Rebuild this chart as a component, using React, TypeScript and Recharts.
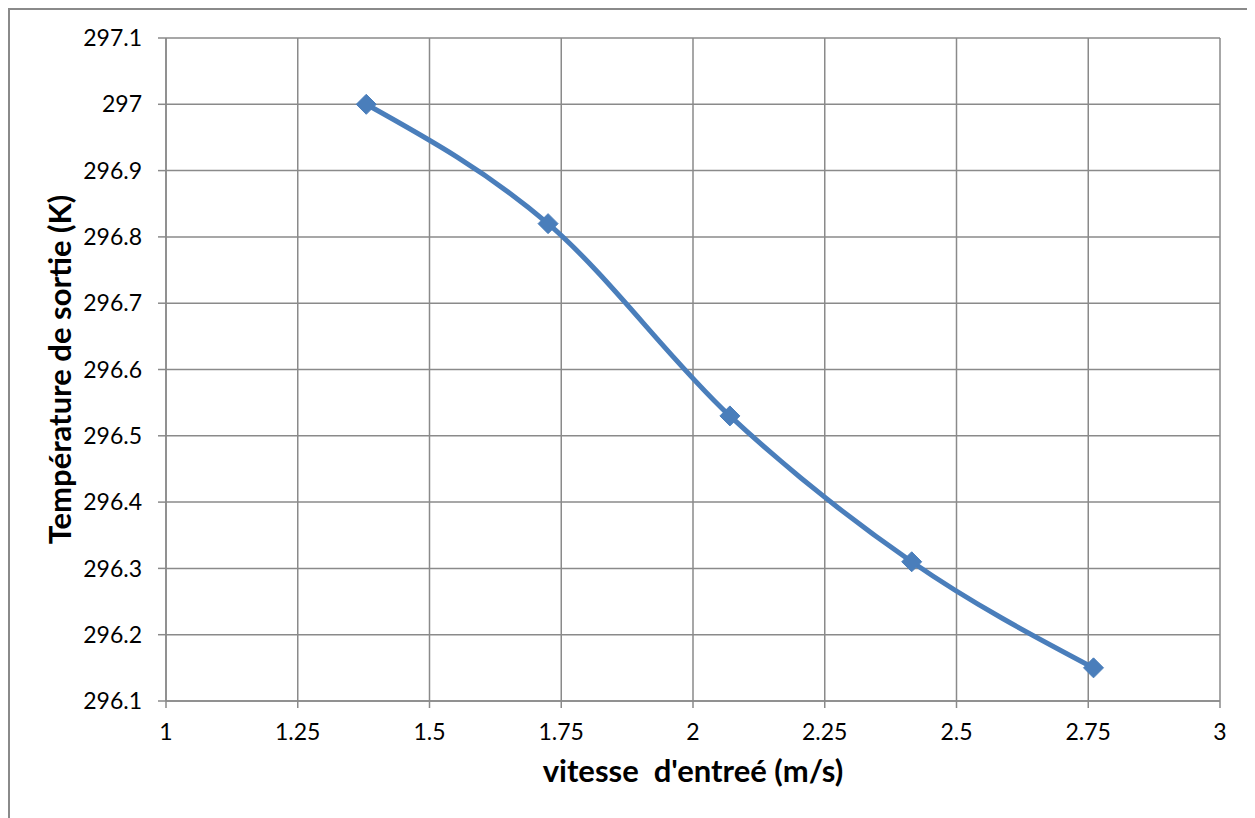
import React from 'react'
import { LineChart, Line, XAxis, YAxis, CartesianGrid } from 'recharts'

// inlet velocity (m/s) and outlet temperature (K)
const vitesse = [1.38, 1.725, 2.07, 2.415, 2.76]
const temperature = [297, 296.82, 296.53, 296.31, 296.15]

const xTicks = [1, 1.25, 1.5, 1.75, 2, 2.25, 2.5, 2.75, 3]
const yTicks = [296.1, 296.2, 296.3, 296.4, 296.5, 296.6, 296.7, 296.8, 296.9, 297, 297.1]

const data = vitesse.map((v, i) => ({ v, t: temperature[i] }))

const BLUE = '#4a7ebb'
const GRID = '#8a8a8a'
const FONT = 'Lato, "Open Sans", sans-serif'

// diamond marker like the Excel default
const Diamond = (props: any) => {
  const { cx, cy } = props
  if (cx == null || cy == null) return null
  const r = 10
  return (
    <path
      d={`M${cx},${cy - r} L${cx + r},${cy} L${cx},${cy + r} L${cx - r},${cy} Z`}
      fill={BLUE}
      stroke={BLUE}
    />
  )
}

export default function App() {
  return (
    <div
      style={{
        width: 1250,
        height: 830,
        border: `2px solid ${GRID}`,
        boxSizing: 'border-box',
        background: '#fff',
      }}
    >
      <LineChart
        width={1236}
        height={810}
        data={data}
        margin={{ top: 28, right: 26, left: 0, bottom: 19 }}
        style={{ fontFamily: FONT }}
      >
        <CartesianGrid stroke={GRID} strokeWidth={1.5} />
        <XAxis
          dataKey="v"
          type="number"
          domain={[1, 3]}
          ticks={xTicks}
          interval={0}
          height={100}
          stroke={GRID}
          strokeWidth={1.5}
          tickSize={7}
          tickMargin={16}
          tick={{ fill: '#000', fontSize: 23, fontFamily: FONT }}
          label={{
            value: "vitesse\u00a0 d'entreé (m/s)",
            position: 'insideBottom',
            offset: 19,
            fill: '#000',
            fontSize: 31,
            fontWeight: 700,
            fontFamily: FONT,
          }}
        />
        <YAxis
          dataKey="t"
          type="number"
          domain={[296.1, 297.1]}
          ticks={yTicks}
          interval={0}
          width={156}
          stroke={GRID}
          strokeWidth={1.5}
          tickSize={8}
          tickMargin={16}
          tick={{ fill: '#000', fontSize: 23, fontFamily: FONT }}
          label={{
            value: 'Température de sortie (K)',
            angle: -90,
            position: 'insideLeft',
            offset: 50,
            fill: '#000',
            fontSize: 31,
            fontWeight: 700,
            fontFamily: FONT,
            style: { textAnchor: 'middle' },
          }}
        />
        <Line
          type="monotone"
          dataKey="t"
          stroke={BLUE}
          strokeWidth={5}
          dot={<Diamond />}
          activeDot={false}
          isAnimationActive={false}
        />
      </LineChart>
    </div>
  )
}
